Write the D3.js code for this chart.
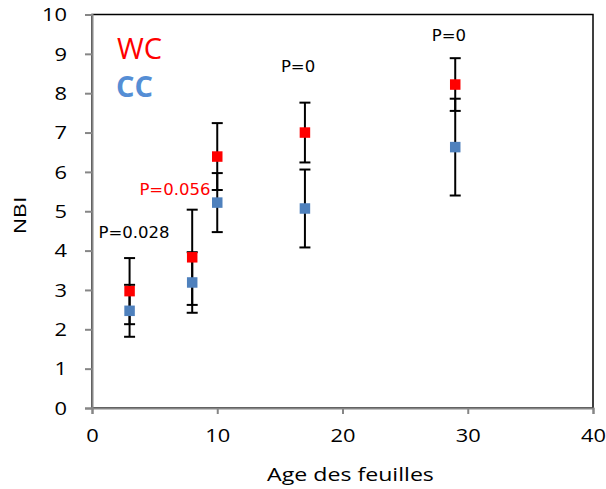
<!DOCTYPE html>
<html>
<head>
<meta charset="utf-8">
<script src="https://cdn.jsdelivr.net/npm/d3@7"></script>
<style>
  html, body { margin: 0; padding: 0; background: #fff; }
  svg { display: block; }
</style>
</head>
<body>
<svg id="chart"></svg>
<script>
// data
var ages = [3, 8, 10, 17, 29];
var wcValues = [2.97, 3.83, 6.39, 7.0, 8.22];
var wcErrors = [0.84, 1.21, 0.85, 0.76, 0.67];
var ccValues = [2.47, 3.19, 5.22, 5.07, 6.63];
var ccErrors = [0.66, 0.77, 0.75, 0.99, 1.23];
var xTicks = [0, 10, 20, 30, 40];
var yTicks = [0, 1, 2, 3, 4, 5, 6, 7, 8, 9, 10];
// p-value notes, placed in data units
var pLabels = ["P=0.028", "P=0.056", "P=0", "P=0"];
var pAges = [3.35, 6.62, 16.45, 28.5];
var pLevels = [4.32, 5.41, 8.53, 9.32];
var pColors = ["#000", "#ff0000", "#000", "#000"];

var W = 606, H = 489;
var margin = { left: 92, right: 13, top: 14.5, bottom: 81 };
var iWidth = W - margin.left - margin.right;
var iHeight = H - margin.top - margin.bottom;

var cRed = "#ff0000";
var cBlue = "#4f81bd";
var cAxis = "#868686";
var sFont = "'Open Sans', sans-serif";
var fStretch = 1.25; // the reference text is drawn wider than the font

var svg = d3.select("#chart").attr("width", W).attr("height", H);
svg.append("rect").attr("width", W).attr("height", H).attr("fill", "#fff");

var chart = svg.append("g")
    .attr("transform", `translate(${margin.left}, ${margin.top})`);

var xScale = d3.scaleLinear().domain([0, 40]).range([0, iWidth]);
var yScale = d3.scaleLinear().domain([0, 10]).range([iHeight, 0]);

// plot area border (black), axes drawn over in gray
chart.append("rect")
    .attr("width", iWidth).attr("height", iHeight)
    .attr("fill", "none").attr("stroke", "#000").attr("stroke-width", 1.5);

var yAxis = chart.append("g")
    .call(d3.axisLeft(yScale).tickValues(yTicks).tickSize(7).tickFormat(d3.format("d")));
var xAxis = chart.append("g")
    .attr("transform", `translate(0, ${iHeight})`)
    .call(d3.axisBottom(xScale).tickValues(xTicks).tickSize(6).tickFormat(d3.format("d")));

[xAxis, yAxis].forEach(function(g) {
    g.select(".domain").attr("stroke", cAxis).attr("stroke-width", 2);
    g.selectAll(".tick line").attr("stroke", cAxis).attr("stroke-width", 2);
    g.selectAll(".tick text")
        .attr("fill", "#000")
        .style("font-family", sFont)
        .style("font-size", "17.5px");
});
yAxis.selectAll(".tick text")
    .attr("x", null)
    .attr("transform", `translate(-25, 0) scale(${fStretch}, 1)`)
    .attr("dy", "0.36em");
xAxis.selectAll(".tick text")
    .attr("y", null)
    .attr("transform", `translate(0, 22) scale(${fStretch}, 1)`)
    .attr("dy", "0.71em");

// error bars
var fCap = 5.5;
function drawBars(aVals, aErr) {
    var g = chart.append("g").attr("stroke", "#000").attr("stroke-width", 2);
    ages.forEach(function(a, i) {
        var x = xScale(a);
        var y1 = yScale(aVals[i] + aErr[i]);
        var y0 = yScale(aVals[i] - aErr[i]);
        g.append("line").attr("x1", x).attr("x2", x).attr("y1", y1).attr("y2", y0);
        g.append("line").attr("x1", x - fCap).attr("x2", x + fCap).attr("y1", y1).attr("y2", y1);
        g.append("line").attr("x1", x - fCap).attr("x2", x + fCap).attr("y1", y0).attr("y2", y0);
    });
}
drawBars(wcValues, wcErrors);
drawBars(ccValues, ccErrors);

// markers
var fSq = 10.5;
function drawMarkers(aVals, sColor) {
    chart.append("g").selectAll("rect")
        .data(ages)
        .join("rect")
        .attr("x", (d) => xScale(d) - fSq / 2)
        .attr("y", (d, i) => yScale(aVals[i]) - fSq / 2)
        .attr("width", fSq).attr("height", fSq)
        .attr("fill", sColor);
}
drawMarkers(wcValues, cRed);
drawMarkers(ccValues, cBlue);

// p-value notes
pLabels.forEach(function(t, i) {
    chart.append("text")
        .attr("x", xScale(pAges[i]))
        .attr("y", yScale(pLevels[i]))
        .attr("text-anchor", "middle")
        .attr("fill", pColors[i])
        .style("font-family", "'DejaVu Sans', sans-serif")
        .style("font-size", "16.5px")
        .text(t);
});

// legend texts
svg.append("text")
    .attr("x", 117).attr("y", 59)
    .attr("fill", cRed)
    .style("font-family", sFont).style("font-size", "29px")
    .text("WC");
svg.append("text")
    .attr("x", 116).attr("y", 97)
    .attr("fill", "#558ed5")
    .style("font-family", sFont).style("font-size", "29px").style("font-weight", "bold")
    .text("CC");

// axis titles
svg.append("text")
    .attr("transform", `translate(${margin.left + iWidth / 2 + 8}, 481) scale(${fStretch}, 1)`)
    .attr("text-anchor", "middle")
    .style("font-family", sFont).style("font-size", "18.5px")
    .text("Age des feuilles");
svg.append("text")
    .attr("transform", "translate(26, 215) rotate(-90) scale(1.3, 1)")
    .attr("text-anchor", "middle")
    .style("font-family", "'Liberation Sans', Arial, sans-serif").style("font-size", "16.5px")
    .style("letter-spacing", "0.5px")
    .text("NBI");
</script>
</body>
</html>
